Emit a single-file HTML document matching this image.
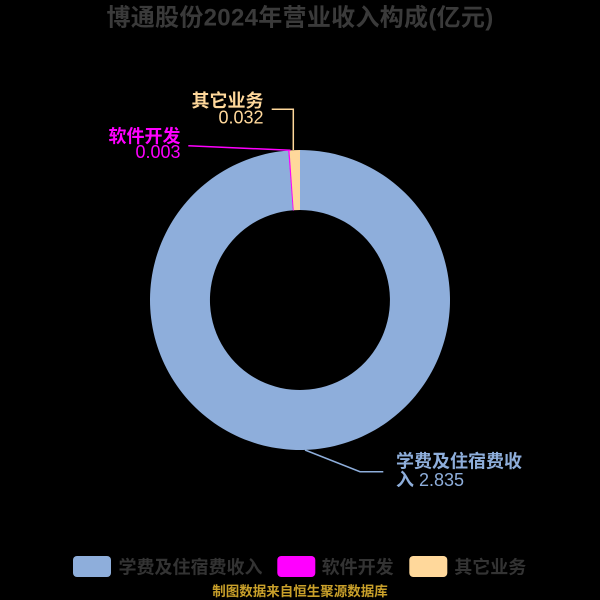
<!DOCTYPE html>
<html>
<head>
<meta charset="utf-8">
<style>
html,body{margin:0;padding:0;background:#000;}
svg{display:block;}
text{font-family:"Liberation Sans","Noto Sans CJK SC",sans-serif;}
</style>
</head>
<body>
<svg width="600" height="600" viewBox="0 0 600 600" xmlns="http://www.w3.org/2000/svg">
<rect x="0" y="0" width="600" height="600" fill="#000"/>
<text x="300" y="25.5" text-anchor="middle" font-size="24" font-weight="bold" fill="#3a3a3a" letter-spacing="0.3">博通股份2024年营业收入构成(亿元)</text>

<!-- donut -->
<path d="M300,150 A150,150 0 1,1 288.52,150.44 L293.11,210.26 A90,90 0 1,0 300,210 Z" fill="#8eaedb"/>
<path d="M288.52,150.44 A150,150 0 0,1 289.51,150.37 L293.70,210.22 A90,90 0 0,0 293.11,210.26 Z" fill="#ff00ff" stroke="#ff00ff" stroke-width="0.6"/>
<path d="M289.51,150.37 A150,150 0 0,1 300,150 L300,210 A90,90 0 0,0 293.70,210.22 Z" fill="#ffd89b"/>

<!-- label lines -->
<polyline points="293.3,150 293.3,109.3 271.7,109.3" fill="none" stroke="#ffd89b" stroke-width="1.5"/>
<polyline points="290.5,150.3 188.3,145.7" fill="none" stroke="#ff00ff" stroke-width="1.5"/>
<polyline points="305,450 360,471.7 383.3,471.7" fill="none" stroke="#8eaedb" stroke-width="1.5"/>

<!-- labels -->
<text x="263.5" y="107" text-anchor="end" font-size="18" font-weight="bold" fill="#ffd89b">其它业务</text>
<text x="263.5" y="123.5" text-anchor="end" font-size="18" fill="#ffd89b">0.032</text>
<text x="180.5" y="142.5" text-anchor="end" font-size="18" font-weight="bold" fill="#ff00ff">软件开发</text>
<text x="180.5" y="158" text-anchor="end" font-size="18" fill="#ff00ff">0.003</text>
<text x="396" y="467.5" font-size="18" font-weight="bold" fill="#8eaedb">学费及住宿费收</text>
<text x="396" y="486" font-size="18" fill="#8eaedb"><tspan font-weight="bold">入</tspan> 2.835</text>

<!-- legend -->
<rect x="73" y="556" width="38" height="21" rx="4" ry="4" fill="#8eaedb"/>
<text x="118.5" y="573.5" font-size="18" font-weight="bold" fill="#333">学费及住宿费收入</text>
<rect x="277.3" y="556" width="38" height="21" rx="4" ry="4" fill="#ff00ff"/>
<text x="321.7" y="573.5" font-size="18" font-weight="bold" fill="#333">软件开发</text>
<rect x="409.3" y="556" width="38" height="21" rx="4" ry="4" fill="#ffd89b"/>
<text x="454.3" y="573.5" font-size="18" font-weight="bold" fill="#333">其它业务</text>

<!-- footer -->
<text x="300" y="596" text-anchor="middle" font-size="13.5" font-weight="bold" fill="#c9a02a">制图数据来自恒生聚源数据库</text>
</svg>
</body>
</html>
